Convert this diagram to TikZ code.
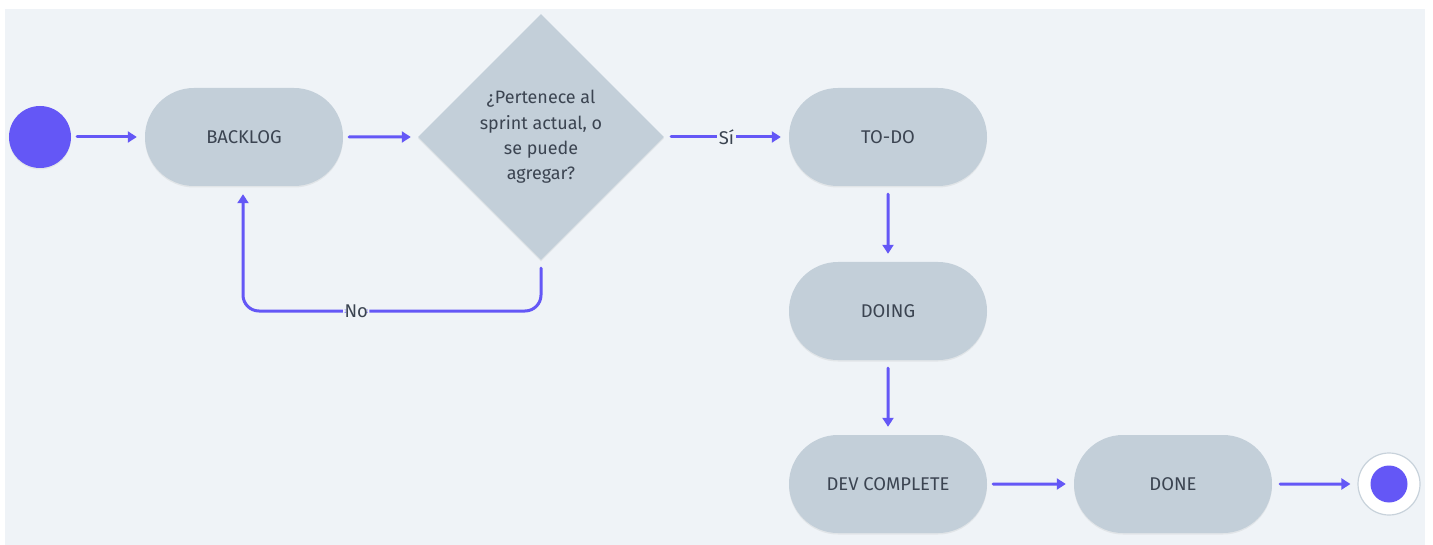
\documentclass[tikz,border=0pt]{standalone}
\usepackage{fontspec}
\setmainfont{Fira Sans}
\usetikzlibrary{arrows.meta,shapes.geometric,shapes.misc,shadows}
\definecolor{canvas}{HTML}{EFF3F7}
\definecolor{statefill}{HTML}{C3CFD9}
\definecolor{flow}{HTML}{6457F6}
\definecolor{ink}{HTML}{3B4451}
\definecolor{ring}{HTML}{C8D2DB}
\tikzset{
  x=1bp, y=-1bp,
  softshadow/.style={drop shadow={opacity=0.12, shadow xshift=0bp, shadow yshift=-1.5bp}},
  state/.style={rounded rectangle, fill=statefill, softshadow, minimum width=198bp,
    minimum height=98bp, inner sep=0pt, text=ink, font=\fontsize{18.5}{22}\selectfont},
  decision/.style={diamond, fill=statefill, softshadow, minimum width=246bp, minimum height=246bp,
    inner sep=0pt, text=ink, align=center, font=\fontsize{18}{25.5}\selectfont},
  flowline/.style={draw=flow, line width=3bp, line cap=round,
    -{Triangle[length=9bp,width=11bp]}},
  guard/.style={fill=canvas, inner sep=1.5bp, text=ink, font=\fontsize{18.5}{22}\selectfont}
}
\begin{document}
\begin{tikzpicture}
  \useasboundingbox (0,0) rectangle (1433,545);
  \fill[white] (0,0) rectangle (1433,545);
  \fill[canvas] (5,9) rectangle (1425,545);

  % states
  \node[circle, fill=flow, minimum size=62bp, inner sep=0pt, softshadow] (start) at (40,137) {};
  \node[state] (backlog) at (244,137) {BACKLOG};
  \node[decision] (ask) at (541,137) {¿Pertenece al\\sprint actual, o\\se puede\\agregar?};
  \node[state] (todo) at (888,137) {TO-DO};
  \node[state] (doing) at (888,311) {DOING};
  \node[state] (devc) at (888,484) {DEV COMPLETE};
  \node[state] (done) at (1173,484) {DONE};
  \node[circle, fill=white, draw=ring, line width=1.2bp, minimum size=62bp, inner sep=0pt] (finish) at (1389,484) {};
  \node[circle, fill=flow, minimum size=37bp, inner sep=0pt] (finishdot) at (finish) {};

  % transitions
  \draw[flowline, shorten <=6bp, shorten >=8bp] (start) -- (backlog);
  \draw[flowline, shorten <=6bp, shorten >=7bp] (backlog) -- (ask);
  \draw[flowline, shorten <=7bp, shorten >=8bp] (ask.east) -- node[guard] {Sí} (todo.west);
  \draw[flowline, shorten <=8bp, shorten >=8bp] (todo) -- (doing);
  \draw[flowline, shorten <=8bp, shorten >=8bp] (doing) -- (devc);
  \draw[flowline, shorten <=6bp, shorten >=8bp] (devc) -- (done);
  \draw[flowline, shorten <=8bp, shorten >=7bp] (done) -- (finish);
  \draw[flowline, rounded corners=16bp, shorten <=8bp, shorten >=8bp]
    (ask.south) -- (541,311) -- node[guard, pos=0.62] {No} (243,311) -- (backlog.south -| 243,0);
\end{tikzpicture}
\end{document}
